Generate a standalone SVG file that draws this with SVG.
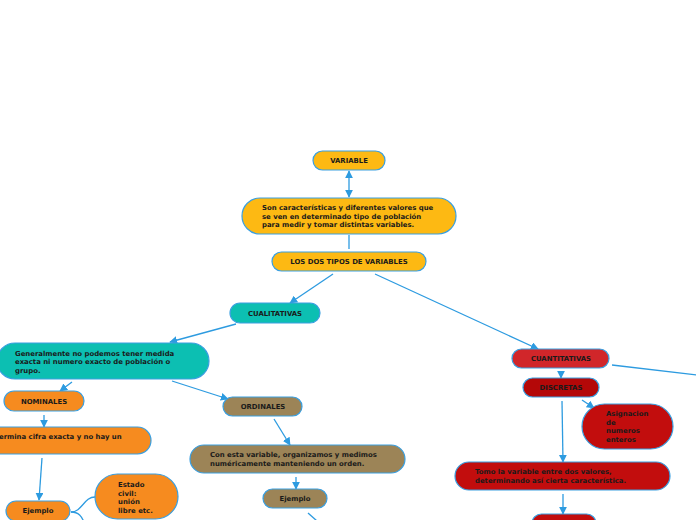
<svg xmlns="http://www.w3.org/2000/svg" width="696" height="520" viewBox="0 0 696 520">
<style>
.n{stroke:#3A9FE0;stroke-width:1.2}
.y{fill:#FDB913}.t{fill:#0CBFB2}.o{fill:#F68B1F}.b{fill:#9C8457}.r1{fill:#D1262A}.r2{fill:#B40808}.r3{fill:#C20D0D}
text{font-family:"DejaVu Sans",Verdana,sans-serif;font-weight:bold;font-size:6.9px;fill:#1a1a1a}
.c{text-anchor:middle}
.e{fill:none;stroke:#2D9BE0;stroke-width:1.3}
</style>
<defs>
<marker id="a" viewBox="0 0 10 10" refX="9" refY="5" markerWidth="8" markerHeight="8" markerUnits="userSpaceOnUse" orient="auto-start-reverse">
<path d="M0,0L10,5L0,10z" fill="#2D9BE0"/>
</marker>
</defs>
<rect width="696" height="520" fill="#fff"/>
<g id="connectors">
<line class="e" x1="349" y1="171" x2="349" y2="197" marker-start="url(#a)" marker-end="url(#a)"/>
<line class="e" x1="349" y1="235" x2="349" y2="249"/>
<line class="e" x1="333" y1="274" x2="290" y2="303" marker-end="url(#a)"/>
<line class="e" x1="375" y1="274" x2="538" y2="349" marker-end="url(#a)"/>
<line class="e" x1="236" y1="324" x2="170" y2="342" marker-end="url(#a)"/>
<line class="e" x1="72" y1="382" x2="60" y2="391" marker-end="url(#a)"/>
<line class="e" x1="172" y1="381" x2="228" y2="399" marker-end="url(#a)"/>
<line class="e" x1="44" y1="415" x2="44" y2="427" marker-end="url(#a)"/>
<line class="e" x1="42" y1="458" x2="39" y2="500" marker-end="url(#a)"/>
<path class="e" d="M71,512 C82,512 84,497 95,497"/>
<path class="e" d="M71,512 C80,512 82,518 84,522"/>
<line class="e" x1="274" y1="419" x2="290" y2="445" marker-end="url(#a)"/>
<line class="e" x1="296" y1="477" x2="296" y2="489" marker-end="url(#a)"/>
<line class="e" x1="308" y1="513" x2="317" y2="521"/>
<line class="e" x1="612" y1="365" x2="697" y2="375"/>
<line class="e" x1="561" y1="371" x2="561" y2="378" marker-end="url(#a)"/>
<line class="e" x1="582" y1="400" x2="594" y2="408" marker-end="url(#a)"/>
<line class="e" x1="562" y1="401" x2="563" y2="462" marker-end="url(#a)"/>
<line class="e" x1="563" y1="494" x2="563" y2="514" marker-end="url(#a)"/>
</g>
<g id="variable"><rect class="n y" x="313" y="151" width="72" height="19" rx="9.5"/><text class="c" x="349" y="163">VARIABLE</text></g>
<g id="definicion"><rect class="n y" x="242" y="198" width="214" height="36" rx="18"/>
<text x="262" y="210">Son características y diferentes valores que</text>
<text x="262" y="218.5">se ven en determinado tipo de población</text>
<text x="262" y="227">para medir y tomar distintas variables.</text></g>
<g id="tipos"><rect class="n y" x="272" y="252" width="154" height="19" rx="9.5"/><text class="c" x="349" y="264">LOS DOS TIPOS DE VARIABLES</text></g>
<g id="cualitativas"><rect class="n t" x="230" y="303" width="90" height="20" rx="10"/><text class="c" x="275" y="316">CUALITATIVAS</text></g>
<g id="generalmente"><rect class="n t" x="-3" y="343" width="212" height="36" rx="18"/>
<text x="15" y="355.5">Generalmente no podemos tener medida</text>
<text x="15" y="364">exacta ni numero exacto de población o</text>
<text x="15" y="372.5">grupo.</text></g>
<g id="nominales"><rect class="n o" x="4" y="391" width="80" height="20" rx="10"/><text class="c" x="44" y="404">NOMINALES</text></g>
<g id="ordinales"><rect class="n b" x="223" y="397" width="79" height="19" rx="9.5"/><text class="c" x="263" y="409">ORDINALES</text></g>
<g id="determina"><rect class="n o" x="-30" y="427" width="181" height="27" rx="13.5"/><text x="-1" y="439">ermina cifra exacta y no hay un</text></g>
<g id="ejemplo1"><rect class="n o" x="6" y="501" width="64" height="20" rx="10"/><text class="c" x="38" y="513">Ejemplo</text></g>
<g id="estado"><rect class="n o" x="95" y="474" width="83" height="45" rx="22.5"/>
<text x="118" y="487">Estado</text><text x="118" y="495.5">civil:</text><text x="118" y="504">unión</text><text x="118" y="512.5">libre etc.</text></g>
<g id="conesta"><rect class="n b" x="190" y="445" width="215" height="28" rx="14"/>
<text x="210" y="457">Con esta variable, organizamos y medimos</text>
<text x="210" y="465.5">numéricamente manteniendo un orden.</text></g>
<g id="ejemplo2"><rect class="n b" x="263" y="489" width="64" height="19" rx="9.5"/><text class="c" x="295" y="501">Ejemplo</text></g>
<g id="cuantitativas"><rect class="n r1" x="512" y="349" width="97" height="19" rx="9.5"/><text class="c" x="561" y="361">CUANTITATIVAS</text></g>
<g id="discretas"><rect class="n r2" x="523" y="378" width="76" height="19" rx="9.5"/><text class="c" x="561" y="390">DISCRETAS</text></g>
<g id="asignacion"><rect class="n r3" x="582" y="404" width="91" height="45" rx="22.5"/>
<text x="606" y="416">Asignacion</text><text x="606" y="424.5">de</text><text x="606" y="433">numeros</text><text x="606" y="441.5">enteros</text></g>
<g id="tomo"><rect class="n r3" x="455" y="462" width="215" height="28" rx="14"/>
<text x="475" y="474">Tomo la variable entre dos valores,</text>
<text x="475" y="482.5">determinando así cierta característica.</text></g>
<g id="inferior"><rect class="n r3" x="532" y="514" width="64" height="19" rx="9.5"/></g>
</svg>
